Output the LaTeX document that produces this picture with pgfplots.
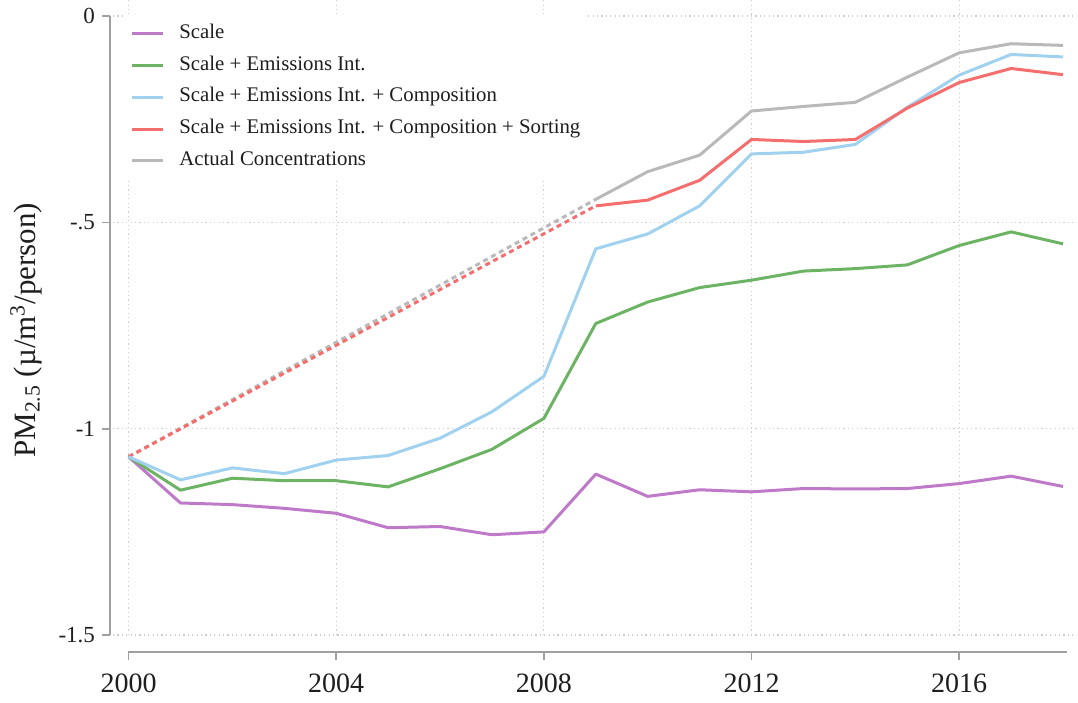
\documentclass[border=0pt]{standalone}
\usepackage{fontspec}
\setmainfont{Liberation Serif}
\usepackage{pgfplots}
\pgfplotsset{compat=1.18}
\usetikzlibrary{calc}
\definecolor{cpur}{RGB}{190,122,200}
\definecolor{cgre}{RGB}{108,180,100}
\definecolor{cblu}{RGB}{160,210,240}
\definecolor{cred}{RGB}{244,110,110}
\definecolor{cgry}{RGB}{185,185,185}
\definecolor{axgray}{RGB}{160,160,160}
\definecolor{gridc}{RGB}{205,205,205}
\definecolor{tickc}{RGB}{30,30,30}
\begin{document}
\begin{tikzpicture}
\begin{axis}[
  width=481.5pt, height=317.5pt, scale only axis,
  xmin=1999.7, xmax=2018.25, ymin=-1.5, ymax=0.039,
  axis x line*=bottom, axis y line*=left,
  axis x line shift=8.5pt,
  axis y line shift=1.5pt,
  x axis line style={-, draw=axgray, line width=0.8pt, shorten <=7.5pt, shorten >=4.5pt},
  y axis line style={-, draw=axgray, line width=0.8pt, shorten >=8pt},
  xtick={2000,2004,2008,2012,2016}, xticklabels={2000,2004,2008,2012,2016},
  ytick={-1.5,-1,-0.5,0}, yticklabels={-1.5,-1,-.5,0},
  tick align=outside, major tick length=4pt,
  tick style={draw=axgray, line width=0.8pt},
  xticklabel style={font=\fontsize{14}{16}\selectfont, text=tickc, yshift=-3.5pt},
  yticklabel style={font=\fontsize{11.5}{14}\selectfont, text=tickc},
  grid=major,
  major grid style={draw=gridc, line width=0.6pt, dash pattern=on 0.6pt off 1.6pt},
  ylabel={PM\textsubscript{2.5} (µ/m\textsuperscript{3}/person)},
  ylabel style={font=\fontsize{15.5}{19}\selectfont, text=tickc, at={(ticklabel cs:0.48)}},
  ylabel shift=1.5pt,
  legend style={at={(rel axis cs:0,1)}, anchor=north west, xshift=5.5pt, yshift=-7pt,
    draw=none, fill=white, inner xsep=3pt, inner ysep=4pt,
    font=\fontsize{10.4}{12.5}\selectfont, text=tickc,
    nodes={inner sep=1pt, text height=7pt, text depth=2.5pt},
    row sep=4.35pt, column sep=6.5pt},
  legend cell align=left,
  legend image code/.code={\draw[#1] (0pt,0pt) -- (15.5pt,0pt);},
  every axis plot/.append style={line width=1.5pt, line join=round},
]
\coordinate (sw) at (rel axis cs:0,0);
\coordinate (ne) at (rel axis cs:1,1);
% dashed extrapolation segments
\addplot[cgry, dash pattern=on 2.5pt off 2pt, forget plot] coordinates {(2000,-1.068) (2009,-0.444)};
\addplot[cred, dash pattern=on 2.5pt off 2pt, forget plot] coordinates {(2000,-1.068) (2009,-0.460)};
\addplot[cpur] coordinates {
(2000,-1.068) (2001,-1.180) (2002,-1.184) (2003,-1.193) (2004,-1.205) (2005,-1.240)
(2006,-1.237) (2007,-1.257) (2008,-1.250) (2009,-1.110) (2010,-1.164) (2011,-1.148)
(2012,-1.153) (2013,-1.145) (2014,-1.146) (2015,-1.145) (2016,-1.133) (2017,-1.115) (2018,-1.140)};
\addlegendentry{Scale}
\addplot[cgre] coordinates {
(2000,-1.068) (2001,-1.149) (2002,-1.120) (2003,-1.126) (2004,-1.126) (2005,-1.141)
(2006,-1.097) (2007,-1.050) (2008,-0.975) (2009,-0.745) (2010,-0.693) (2011,-0.658)
(2012,-0.640) (2013,-0.618) (2014,-0.612) (2015,-0.603) (2016,-0.556) (2017,-0.523) (2018,-0.552)};
\addlegendentry{Scale + Emissions Int.}
\addplot[cblu] coordinates {
(2000,-1.068) (2001,-1.124) (2002,-1.095) (2003,-1.109) (2004,-1.076) (2005,-1.065)
(2006,-1.023) (2007,-0.959) (2008,-0.873) (2009,-0.564) (2010,-0.528) (2011,-0.460)
(2012,-0.334) (2013,-0.330) (2014,-0.311) (2015,-0.221) (2016,-0.143) (2017,-0.093) (2018,-0.099)};
\addlegendentry{Scale + Emissions Int. + Composition}
\addplot[cred] coordinates {
(2009,-0.460) (2010,-0.446) (2011,-0.398) (2012,-0.299) (2013,-0.304) (2014,-0.299)
(2015,-0.223) (2016,-0.161) (2017,-0.127) (2018,-0.142)};
\addlegendentry{Scale + Emissions Int. + Composition + Sorting}
\addplot[cgry] coordinates {
(2009,-0.444) (2010,-0.377) (2011,-0.337) (2012,-0.230) (2013,-0.219) (2014,-0.209)
(2015,-0.148) (2016,-0.089) (2017,-0.067) (2018,-0.071)};
\addlegendentry{Actual Concentrations}
\end{axis}
\pgfresetboundingbox
\path ($(sw)+(-56.5pt,-33.5pt)$) rectangle ($(ne)+(1pt,0pt)$);
\end{tikzpicture}
\end{document}
